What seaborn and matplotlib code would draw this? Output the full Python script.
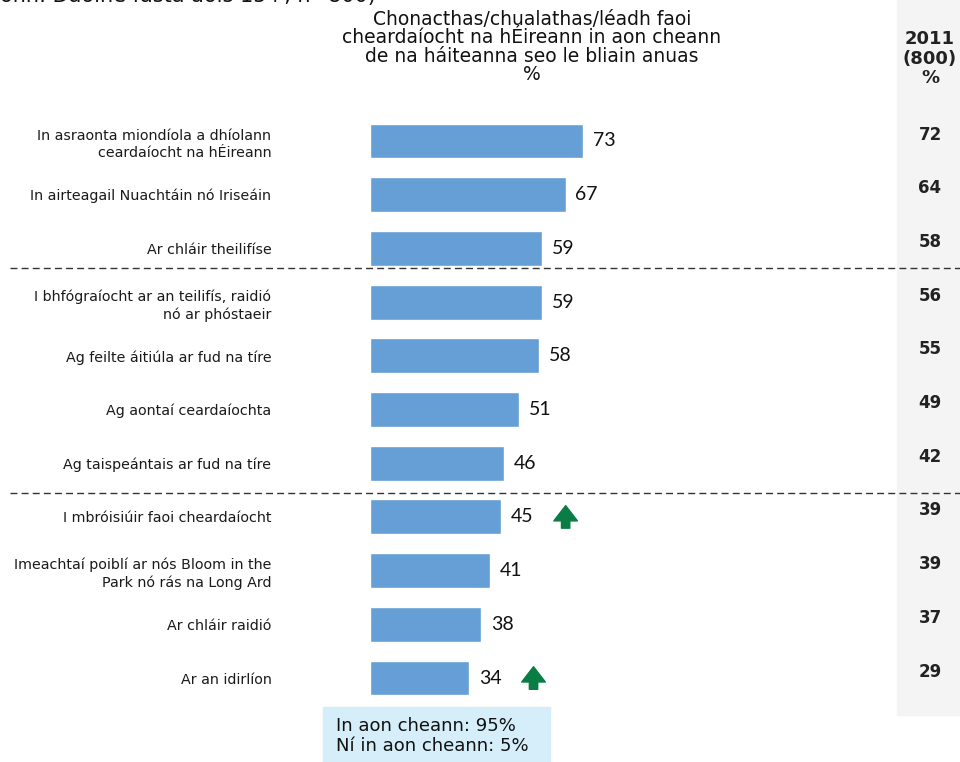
import matplotlib.pyplot as plt
import matplotlib.transforms as mtrans
from matplotlib.patches import Rectangle
from matplotlib.lines import Line2D
import seaborn as sns

sns.set_theme(style="white")
plt.rcParams["font.family"] = ["DejaVu Sans"]

categories = [
    "In asraonta miondíola a dhíolann\nceardaíocht na hÉireann",
    "In airteagail Nuachtáin nó Iriseáin",
    "Ar chláir theilifíse",
    "I bhfógraíocht ar an teilifís, raidió\nnó ar phóstaeir",
    "Ag feilte áitiúla ar fud na tíre",
    "Ag aontaí ceardaíochta",
    "Ag taispeántais ar fud na tíre",
    "I mbróisiúir faoi cheardaíocht",
    "Imeachtaí poiblí ar nós Bloom in the\nPark nó rás na Long Ard",
    "Ar chláir raidió",
    "Ar an idirlíon",
]
values = [73, 67, 59, 59, 58, 51, 46, 45, 41, 38, 34]
values_2011 = [72, 64, 58, 56, 55, 49, 42, 39, 39, 37, 29]
rising = [False, False, False, False, False, False, False, True, False, False, True]

title = ("Chonacthas/chualathas/léadh faoi\ncheardaíocht na hÉireann in aon cheann\n"
         "de na háiteanna seo le bliain anuas\n%")
base_note = "onn: Daoine fásta aois 15+, n=800)"
col_header = "2011\n(800)\n%"
box_text = "In aon cheann: 95%\nNí in aon cheann: 5%"

W, H = 960, 762
fig = plt.figure(figsize=(W / 100, H / 100), dpi=100)
# axes: value 0 at x=370px, 2.92 px per point; rows 53.7px apart from y=141px
left = 370 / W
top_px, bot_px = 141 - 0.5 * 53.7, 141 + 10.5 * 53.7
ax = fig.add_axes([left, 1 - bot_px / H, 1 - left, (bot_px - top_px) / H])

# grey panel for 2011 column
fig.add_artist(Rectangle((897 / W, 1 - 715 / H), 63 / W, 715 / H,
                         transform=fig.transFigure, color="#f4f4f4", zorder=0))

sns.barplot(x=values, y=categories, color="#659fd5", saturation=1, width=0.65, ax=ax)
ax.set_xlim(0, (W - 370) / 2.92)
ax.set_ylim(10.5, -0.5)
ax.patch.set_alpha(0)
sns.despine(ax=ax, left=True, bottom=True)
ax.set_xticks([])
ax.set_xlabel("")
ax.set_ylabel("")
ax.tick_params(axis="y", length=0, pad=71, labelsize=10.3)
for lbl in ax.get_yticklabels():
    lbl.set_horizontalalignment("right")
    lbl.set_color("#1a1a1a")
    lbl.set_linespacing(1.3)

ax.bar_label(ax.containers[0], padding=7, fontsize=14, color="#111111",
             family="Lato")

# green up arrows
for i, (v, r) in enumerate(zip(values, rising)):
    if r:
        ax.annotate("", xy=(v + 22, i - 0.21), xytext=(v + 22, i + 0.21),
                    arrowprops=dict(arrowstyle="simple,head_length=0.55,head_width=0.85,tail_width=0.3",
                                    color="#0a7d45", mutation_scale=20,
                                    shrinkA=0, shrinkB=0))

# dashed separators spanning the figure (between groups of rows)
blend = mtrans.blended_transform_factory(fig.transFigure, ax.transData)
for yb in [2.37, 6.55]:
    fig.add_artist(Line2D([10 / W, 1], [yb, yb], transform=blend, color="#333333",
                          lw=1, ls=(0, (5, 3))))

# 2011 column
for i, v in enumerate(values_2011):
    fig.text(930 / W, i - 0.12, str(v), transform=blend, ha="center", va="center",
             fontsize=12, fontweight="bold", color="#222222")
fig.text(930 / W, 1 - 30 / H, col_header, ha="center", va="top", fontsize=13,
         fontweight="bold", color="#222222", linespacing=1.12)

fig.text(532 / W, 1 - 10 / H, title, ha="center", va="top", fontsize=13.5,
         color="#111111", linespacing=0.95)
fig.text(0, 1 + 4 / H, base_note, ha="left", va="center", fontsize=15, color="#111111")

# summary box
fig.add_artist(Rectangle((323 / W, 0), 227 / W, 55 / H, transform=fig.transFigure,
                         color="#d5eefa", zorder=0))
fig.text(336 / W, 26 / H, box_text, ha="left", va="center", fontsize=13,
         color="#111111", linespacing=1.1)

fig.savefig("out.png", dpi=100)
